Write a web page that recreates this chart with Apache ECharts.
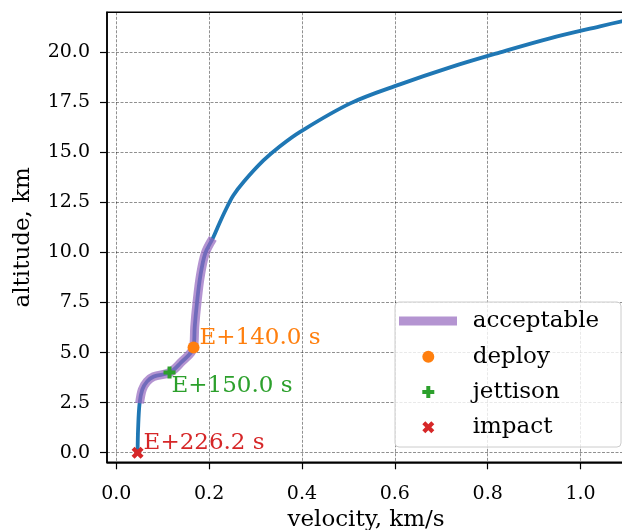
<!DOCTYPE html>
<html><head><meta charset="utf-8">
<script src="https://cdn.jsdelivr.net/npm/echarts@6/dist/echarts.min.js"></script>
<style>html,body{margin:0;padding:0;background:#fff}#c{width:622px;height:530px}</style>
</head><body><div id="c"></div>
<script>
// Trajectory (velocity km/s, altitude km), from impact upward
const trajVelocity = [0.0459, 0.0470, 0.0502, 0.0560, 0.0660, 0.0803, 0.1147, 0.1378, 0.1664, 0.1690, 0.1737, 0.1808, 0.1916, 0.2080, 0.2220, 0.2350, 0.2520, 0.2750, 0.3170, 0.3520, 0.3960, 0.5040, 0.6110, 0.7190, 0.8270, 0.9340, 1.0420, 1.0890, 1.1000];
const trajAltitude = [0.00, 1.20, 2.47, 3.15, 3.55, 3.80, 4.00, 4.47, 5.26, 6.30, 7.46, 8.79, 9.96, 10.71, 11.45, 12.10, 12.85, 13.55, 14.60, 15.30, 16.03, 17.45, 18.40, 19.25, 20.00, 20.70, 21.30, 21.55, 21.60];
// Acceptable segment
const acceptVelocity = [0.0502, 0.0560, 0.0660, 0.0803, 0.1147, 0.1378, 0.1664, 0.1690, 0.1737, 0.1808, 0.1916, 0.2080];
const acceptAltitude = [2.47, 3.15, 3.55, 3.80, 4.00, 4.47, 5.26, 6.30, 7.46, 8.79, 9.96, 10.71];
// Events
const eventNames = ['deploy', 'jettison', 'impact'];
const eventVelocity = [0.1664, 0.1147, 0.0459];
const eventAltitude = [5.26, 4.00, 0.00];
const eventLabels = ['E+140.0 s', 'E+150.0 s', 'E+226.2 s'];
// Ticks
const xTicks = [0.0, 0.2, 0.4, 0.6, 0.8, 1.0];
const yTicks = [0.0, 2.5, 5.0, 7.5, 10.0, 12.5, 15.0, 17.5, 20.0];

const FONT = 'DejaVu Serif';
const eventColors = ['#ff7f0e', '#2ca02c', '#d62728'];
const PLUS = 'path://M-1,-3L1,-3L1,-1L3,-1L3,1L1,1L1,3L-1,3L-1,1L-3,1L-3,-1L-1,-1Z';
const XMARK = 'path://M1.414,-2.828L2.828,-1.414L1.414,0L2.828,1.414L1.414,2.828L0,1.414L-1.414,2.828L-2.828,1.414L-1.414,0L-2.828,-1.414L-1.414,-2.828L0,-1.414Z';
const eventSymbols = ['circle', PLUS, XMARK];
const labelOffsets = [[0, -9], [-4, 13], [0, -10]];

const chart = echarts.init(document.getElementById('c'));
const pairs = (xs, ys) => xs.map((v, i) => [v, ys[i]]);

const series = [
  {
    name: 'trajectory', type: 'line', data: pairs(trajVelocity, trajAltitude),
    showSymbol: false, symbol: 'none', smooth: 0.35, z: 2, clip: true,
    lineStyle: { color: '#1f77b4', width: 3.8 }, itemStyle: { color: '#1f77b4' }
  },
  {
    name: 'acceptable', type: 'line', data: pairs(acceptVelocity, acceptAltitude),
    showSymbol: false, symbol: 'none', smooth: 0.35, z: 3,
    lineStyle: { color: 'rgba(148,103,189,0.7)', width: 9, cap: 'butt' },
    itemStyle: { color: 'rgba(148,103,189,0.7)' }
  }
];
eventNames.forEach((n, i) => {
  series.push({
    name: n, type: 'scatter', z: 5,
    data: [[eventVelocity[i], eventAltitude[i]]],
    symbol: eventSymbols[i], symbolSize: 12,
    itemStyle: { color: eventColors[i], opacity: 1 },
    label: {
      show: true, position: 'right', distance: 0, offset: labelOffsets[i],
      formatter: eventLabels[i], color: eventColors[i], fontFamily: FONT, fontSize: 23
    }
  });
});

const axisCommon = {
  type: 'value',
  axisLine: { show: true, onZero: false, lineStyle: { color: '#000', width: 1.5 } },
  splitLine: { show: true, lineStyle: { color: 'rgba(0,0,0,0.55)', width: 0.8, type: [3, 1.5] } },
  nameLocation: 'middle',
  nameTextStyle: { fontFamily: FONT, fontSize: 23, color: '#000' }
};

chart.setOption({
  animation: false,
  backgroundColor: '#fff',
  grid: { left: 107, top: 12.3, right: -3, bottom: 67.7, outerBoundsMode: 'none', containLabel: false, show: true, borderColor: '#000', borderWidth: 1.5, backgroundColor: 'transparent' },
  xAxis: Object.assign({}, axisCommon, {
    min: -0.020, max: 1.0958,
    name: 'velocity, km/s', nameGap: 46,
    axisTick: { show: true, customValues: xTicks, length: 7, lineStyle: { color: '#000', width: 1.2 } },
    axisLabel: { customValues: xTicks, formatter: v => v.toFixed(1), fontFamily: FONT, fontSize: 19, color: '#000', margin: 22 }
  }),
  yAxis: Object.assign({}, axisCommon, {
    min: -0.48, max: 22.0,
    name: 'altitude, km', nameGap: 72,
    axisTick: { show: true, customValues: yTicks, length: 7, lineStyle: { color: '#000', width: 1.2 } },
    axisLabel: { customValues: yTicks, formatter: v => v.toFixed(1), fontFamily: FONT, fontSize: 19, color: '#000', margin: 17 }
  }),
  graphic: [{
    type: 'rect', z: 10, silent: true,
    shape: { x: 395, y: 302, width: 226, height: 145, r: 4 },
    style: { fill: 'rgba(255,255,255,0.8)', stroke: '#cccccc', lineWidth: 1 }
  }],
  legend: [
    {
      z: 20, left: 399, top: 309.5, padding: 0, selectedMode: false,
      itemWidth: 58, itemHeight: 9,
      data: [{ name: 'acceptable', icon: 'rect' }],
      textStyle: { fontFamily: FONT, fontSize: 23, color: '#000', padding: [0, 0, 0, 10.7] }
    },
    {
      z: 20, left: 422.3, top: 345.2, padding: 0, selectedMode: false, orient: 'vertical',
      itemWidth: 12, itemHeight: 12, itemGap: 12.3,
      data: eventNames,
      textStyle: { fontFamily: FONT, fontSize: 23, color: '#000', padding: [0, 0, 0, 33.4] }
    }
  ],
  series: series
});
</script>
</body></html>
